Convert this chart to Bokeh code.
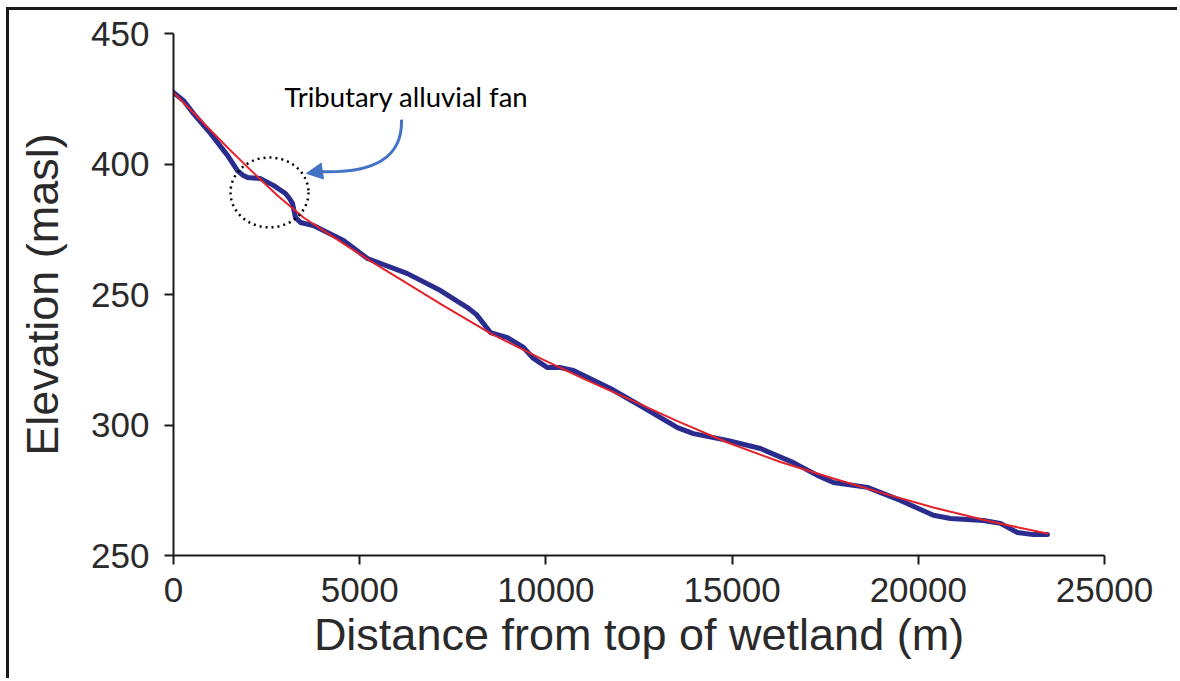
from bokeh.plotting import figure
from bokeh.models import Range1d, FixedTicker, Arrow, NormalHead, Label
from bokeh.embed import file_html
from bokeh.resources import INLINE

# ---- data ----
profile_distance = [0, 268, 537, 993, 1450, 1718, 1853, 1987, 2336, 2685, 3007, 3115, 3195, 3276,
                    3410, 3759, 4135, 4565, 5209, 6283, 7169, 7894, 8136, 8324, 8511, 8968, 9398,
                    9666, 10042, 10391, 10740, 11733, 12620, 13532, 13962, 14875, 15761, 16647,
                    17291, 17721, 18634, 19520, 20406, 20862, 21749, 22205, 22661, 23091, 23467]
profile_elevation = [427.4, 424.3, 419.3, 411.7, 403.3, 397.5, 395.8, 394.8, 394.4, 391.8, 388.7,
                     386.8, 384.9, 379.5, 377.6, 376.4, 373.8, 370.7, 363.8, 358.0, 351.5, 345.0,
                     342.3, 338.9, 335.4, 333.5, 329.7, 325.5, 322.0, 322.0, 320.9, 314.0, 306.7,
                     299.0, 296.7, 294.1, 291.0, 285.6, 280.7, 278.0, 276.1, 271.1, 265.4, 264.2,
                     263.4, 262.3, 258.8, 258.0, 258.0]

fit_distance = [0, 1450, 2148, 2792, 3491, 4565, 5370, 6283, 7169, 8511, 9854, 11062, 12190,
                13532, 14875, 16298, 17721, 19064, 20406, 21936, 23467]
fit_elevation = [427.4, 406.3, 396.6, 387.9, 379.5, 369.5, 362.1, 354.2, 346.4, 335.1, 325.5,
                 317.4, 310.2, 301.5, 293.3, 285.8, 279.5, 273.8, 268.4, 263.0, 258.4]

x_ticks = [0, 5000, 10000, 15000, 20000, 25000]
y_ticks = [250, 300, 350, 400, 450]
y_tick_labels = ["250", "300", "250", "400", "450"]

x_title = "Distance from top of wetland (m)"
y_title = "Elevation (masl)"
note_text = "Tributary alluvial fan"

# ---- figure ----
p = figure(width=1171, height=671, x_range=Range1d(0, 25000), y_range=Range1d(250, 450),
           output_backend="svg", toolbar_location=None,
           min_border_left=164, min_border_right=76, min_border_top=23, min_border_bottom=126)
p.styles = {"border-left": "3px solid #1a1a1a", "border-top": "3px solid #1a1a1a",
            "margin-left": "6px", "margin-top": "7px"}
p.grid.visible = False
p.outline_line_color = None
p.background_fill_color = "white"
p.border_fill_color = "white"

for ax in (p.xaxis[0], p.yaxis[0]):
    ax.axis_line_color = "#1a1a1a"
    ax.axis_line_width = 2
    ax.major_tick_line_color = "#1a1a1a"
    ax.major_tick_line_width = 2
    ax.major_tick_in = 0
    ax.major_tick_out = 9
    ax.minor_tick_line_color = None
    ax.major_label_text_font = "Liberation Sans"
    ax.major_label_text_font_size = "35px"
    ax.major_label_text_color = "#2a2a2a"
    ax.axis_label_text_font = "Liberation Sans"
    ax.axis_label_text_font_size = "45px"
    ax.axis_label_text_font_style = "normal"
    ax.axis_label_text_color = "#2a2a2a"

p.xaxis.ticker = FixedTicker(ticks=x_ticks)
p.yaxis.ticker = FixedTicker(ticks=y_ticks)
p.yaxis.major_label_overrides = {t: lab for t, lab in zip(y_ticks, y_tick_labels)}
p.xaxis.axis_label = x_title
p.yaxis.axis_label = y_title
p.xaxis.major_label_standoff = 13
p.yaxis.major_label_standoff = 15
p.xaxis.axis_label_standoff = 4
p.yaxis.axis_label_standoff = 20

# ---- lines ----
p.line(profile_distance, profile_elevation, line_color="#2B2D8E", line_width=5,
       line_join="round", line_cap="round")
p.line(fit_distance, fit_elevation, line_color="#E3222A", line_width=2,
       line_join="round", line_cap="round")

# ---- annotation ----
arrow_color = "#4472C4"
p.ellipse(x=[2578], y=[389.1], width=[2094], height=[26.8], fill_color=None,
          line_color="black", line_width=2.5, line_dash="2 4")
p.quadratic(x0=[6122], y0=[417.0], cx=[6176], cy=[395.6], x1=[3893], y1=[397.1],
            line_color=arrow_color, line_width=3)
p.add_layout(Arrow(end=NormalHead(size=16, fill_color=arrow_color, line_color=arrow_color),
                   x_start=3950, y_start=397.2, x_end=3571, y_end=396.4,
                   line_color=arrow_color, line_width=3))
p.add_layout(Label(x=2980, y=425.9, text=note_text, text_font="Lato", text_font_size="27.5px",
                   text_baseline="alphabetic", text_align="left", text_color="black"))

open("out.html", "w").write(file_html(p, INLINE))
